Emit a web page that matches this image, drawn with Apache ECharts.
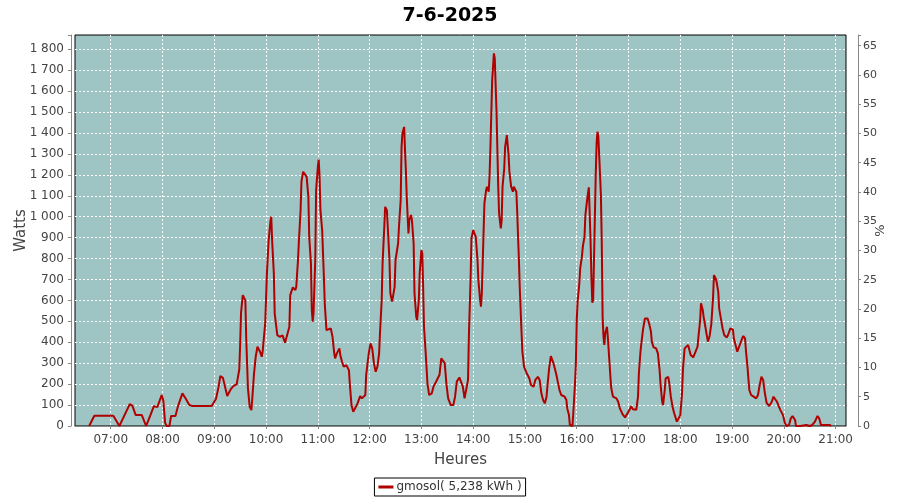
<!DOCTYPE html>
<html><head><meta charset="utf-8">
<script src="https://cdn.jsdelivr.net/npm/echarts@6/dist/echarts.min.js"></script>
<style>html,body{margin:0;padding:0;background:#fff}#c{width:900px;height:500px}</style>
</head><body><div id="c"></div><script>
const chartTitle = '7-6-2025';
const seriesName = 'gmosol( 5,238 kWh )';
const times = ['06:35','06:41','07:03','07:05','07:10','07:12','07:16','07:22','07:25','07:29','07:36','07:41','07:42','07:46','07:50','07:54','07:59','08:01','08:03','08:05','08:08','08:10','08:15','08:18','08:23','08:27','08:31','08:35','08:57','08:58','09:02','09:05','09:07','09:10','09:15','09:19','09:22','09:26','09:29','09:30','09:31','09:33','09:36','09:37','09:39','09:41','09:43','09:44','09:46','09:48','09:50','09:53','09:55','09:56','09:59','10:00','10:01','10:03','10:05','10:06','10:07','10:09','10:10','10:13','10:16','10:19','10:22','10:24','10:27','10:28','10:31','10:34','10:35','10:37','10:38','10:40','10:41','10:43','10:45','10:47','10:49','10:50','10:52','10:53','10:54','10:55','10:57','10:58','11:00','11:01','11:02','11:03','11:05','11:07','11:08','11:10','11:12','11:15','11:17','11:19','11:20','11:22','11:25','11:26','11:28','11:30','11:33','11:36','11:37','11:39','11:41','11:43','11:46','11:49','11:51','11:53','11:55','11:56','11:59','12:01','12:03','12:05','12:07','12:09','12:11','12:12','12:14','12:15','12:17','12:18','12:20','12:21','12:23','12:24','12:26','12:27','12:29','12:30','12:33','12:34','12:36','12:37','12:38','12:40','12:41','12:42','12:43','12:45','12:46','12:48','12:49','12:51','12:52','12:54','12:55','12:57','12:58','13:00','13:01','13:02','13:03','13:05','13:07','13:09','13:12','13:14','13:18','13:21','13:23','13:25','13:27','13:29','13:31','13:34','13:37','13:39','13:41','13:44','13:46','13:48','13:50','13:52','13:54','13:55','13:57','13:58','14:00','14:02','14:03','14:05','14:06','14:08','14:09','14:10','14:12','14:13','14:15','14:16','14:18','14:19','14:20','14:21','14:22','14:24','14:25','14:26','14:27','14:28','14:29','14:30','14:32','14:33','14:34','14:36','14:37','14:39','14:40','14:41','14:42','14:44','14:46','14:47','14:49','14:50','14:51','14:52','14:53','14:54','14:56','14:57','14:59','15:02','15:05','15:07','15:10','15:12','15:15','15:17','15:19','15:21','15:23','15:25','15:26','15:28','15:30','15:32','15:33','15:36','15:38','15:40','15:42','15:46','15:48','15:49','15:51','15:52','15:55','15:56','15:58','15:59','16:00','16:01','16:03','16:04','16:06','16:07','16:09','16:10','16:12','16:13','16:14','16:16','16:17','16:18','16:19','16:20','16:21','16:22','16:23','16:24','16:25','16:26','16:28','16:29','16:30','16:31','16:32','16:33','16:35','16:36','16:38','16:39','16:40','16:42','16:43','16:46','16:48','16:50','16:53','16:56','16:58','17:01','17:03','17:05','17:07','17:09','17:11','17:12','17:14','17:16','17:17','17:19','17:22','17:24','17:26','17:27','17:29','17:32','17:34','17:36','17:37','17:39','17:40','17:42','17:43','17:46','17:47','17:49','17:51','17:53','17:56','17:58','18:00','18:02','18:03','18:05','18:07','18:09','18:10','18:12','18:15','18:17','18:20','18:21','18:23','18:24','18:26','18:27','18:29','18:31','18:32','18:34','18:36','18:38','18:39','18:41','18:42','18:44','18:45','18:47','18:49','18:51','18:54','18:56','18:58','19:01','19:02','19:05','19:06','19:08','19:11','19:13','19:15','19:16','19:18','19:19','19:20','19:22','19:25','19:28','19:30','19:32','19:34','19:36','19:38','19:40','19:43','19:46','19:48','19:50','19:52','19:54','19:56','19:59','20:01','20:03','20:06','20:08','20:10','20:13','20:14','20:19','20:20','20:26','20:30','20:33','20:36','20:39','20:41','20:43','20:45','20:49','20:53','20:55'];
const watts = [0,49,49,45,0,0,52,104,97,52,52,0,0,52,95,90,148,120,15,0,0,48,48,95,156,130,100,95,95,88,130,188,239,230,143,175,190,200,271,395,540,625,600,419,180,92,76,130,248,331,379,355,331,355,490,610,729,888,976,1000,888,729,538,434,426,433,398,402,474,625,662,650,665,793,880,1031,1167,1215,1219,1190,1095,904,777,554,498,538,793,1127,1238,1273,1190,1031,936,713,586,458,450,466,426,347,323,347,371,339,307,283,291,267,204,100,68,84,108,143,132,124,148,244,347,395,371,299,259,283,347,443,602,777,952,1047,1031,952,793,634,594,617,665,793,872,952,1079,1334,1398,1429,1318,1222,1095,920,984,1008,984,872,634,522,506,602,729,840,825,665,474,347,204,148,156,188,220,245,323,331,300,200,132,100,100,140,212,232,235,188,132,140,220,426,705,896,936,944,904,793,697,602,570,634,920,1063,1127,1143,1119,1199,1334,1493,1652,1780,1756,1748,1509,1326,1143,1016,944,984,1143,1231,1334,1390,1398,1294,1214,1143,1119,1143,1135,1119,1023,904,793,657,450,355,283,252,228,196,188,220,235,220,156,124,108,140,188,275,334,331,300,252,212,172,148,140,124,84,52,5,0,60,204,300,506,594,681,753,809,856,904,1008,1079,1111,1140,888,713,589,602,793,1000,1199,1350,1406,1382,1294,1103,872,514,426,387,443,474,426,300,235,180,140,148,132,116,84,57,41,44,76,95,80,76,78,140,252,363,434,466,514,514,487,450,403,376,371,347,267,204,116,100,172,228,235,212,140,92,60,21,16,52,156,267,371,379,387,371,339,328,328,379,426,506,586,554,522,474,426,403,430,490,617,721,705,689,641,562,514,466,434,423,443,466,460,419,371,355,360,411,430,419,363,275,220,172,148,140,132,148,196,235,220,156,111,95,116,140,143,116,95,76,52,16,0,5,36,48,29,0,0,5,5,0,5,21,48,36,5,0,5,5,0];

function ts(hhmm, sec) {
  const p = hhmm.split(':');
  return new Date(2025, 5, 7, +p[0], +p[1], sec || 0).getTime();
}
const pad = n => (n < 10 ? '0' : '') + n;
const data = times.map((t, i) => [ts(t), watts[i]]);
const FONT = 'DejaVu Sans';

const chart = echarts.init(document.getElementById('c'), null, {renderer: 'canvas'});
chart.setOption({
  animation: false,
  backgroundColor: '#ffffff',
  textStyle: {fontFamily: FONT},
  title: {
    text: chartTitle, left: 'center', top: 2,
    textStyle: {fontFamily: FONT, fontSize: 19, fontWeight: 'bold', color: '#000'}
  },
  legend: {
    data: [seriesName], left: 'center', top: 478,
    icon: 'rect', itemWidth: 15, itemHeight: 3, padding: [3, 4],
    borderColor: '#000', borderWidth: 1, borderRadius: 0,
    textStyle: {fontFamily: FONT, fontSize: 12, color: '#333', padding: [0, 0, 0, -2]}
  },
  grid: {
    left: 75, right: 54, top: 35, bottom: 74,
    outerBoundsMode: 'none', containLabel: false,
    show: true, backgroundColor: '#9ec4c3', borderColor: '#000', borderWidth: 1
  },
  xAxis: {
    type: 'time',
    min: ts('06:18', 36), max: ts('21:12'),
    minInterval: 3600000, maxInterval: 3600000,
    offset: 4,
    name: 'Heures', nameLocation: 'middle', nameGap: 23, nameMoveOverlap: false,
    nameTextStyle: {fontFamily: FONT, fontSize: 15, color: '#444'},
    axisLine: {show: true, lineStyle: {color: '#888'}},
    axisTick: {show: true, length: 3, lineStyle: {color: '#888'}},
    axisLabel: {
      fontFamily: FONT, fontSize: 12, color: '#444', margin: 4,
      showMinLabel: false, showMaxLabel: false,
      formatter: v => { const d = new Date(v); return d.getMinutes() === 0 ? pad(d.getHours()) + ':00' : ''; }
    },
    splitLine: {show: true, showMinLine: false, showMaxLine: false, lineStyle: {color: '#ffffff', type: [2, 2], width: 1}}
  },
  yAxis: [{
    type: 'value', min: 0, max: 1868, interval: 100, position: 'left', offset: 4,
    name: 'Watts', nameLocation: 'middle', nameGap: 42, nameRotate: 90, nameMoveOverlap: false,
    nameTextStyle: {fontFamily: FONT, fontSize: 15, color: '#444'},
    axisLine: {show: true, lineStyle: {color: '#888'}},
    axisTick: {show: true, length: 3, lineStyle: {color: '#888'}},
    axisLabel: {
      fontFamily: FONT, fontSize: 12, color: '#444', margin: 7,
      formatter: v => {
        if (v % 100 !== 0) return '';
        return v >= 1000 ? Math.floor(v / 1000) + ' ' + String(v % 1000).padStart(3, '0') : String(v);
      }
    },
    splitLine: {show: true, showMinLine: false, showMaxLine: false, lineStyle: {color: '#ffffff', type: [2, 2], width: 1}}
  }, {
    type: 'value', min: 0, max: 66.83, interval: 5, position: 'right', offset: 12,
    name: '%', nameLocation: 'middle', nameGap: 16, nameRotate: 90, nameMoveOverlap: false,
    nameTextStyle: {fontFamily: FONT, fontSize: 13, color: '#444'},
    axisLine: {show: true, lineStyle: {color: '#888'}},
    axisTick: {show: true, length: 3, lineStyle: {color: '#888'}},
    axisLabel: {
      fontFamily: FONT, fontSize: 11, color: '#444', margin: 5,
      formatter: v => (Math.abs(v - Math.round(v / 5) * 5) < 1e-6 ? String(Math.round(v)) : '')
    },
    splitLine: {show: false}
  }],
  series: [{
    name: seriesName, type: 'line', yAxisIndex: 0,
    data: data, showSymbol: false, symbol: 'none',
    lineStyle: {color: '#b00000', width: 2},
    itemStyle: {color: '#b00000'},
    emphasis: {disabled: true}
  }]
});
</script></body></html>
